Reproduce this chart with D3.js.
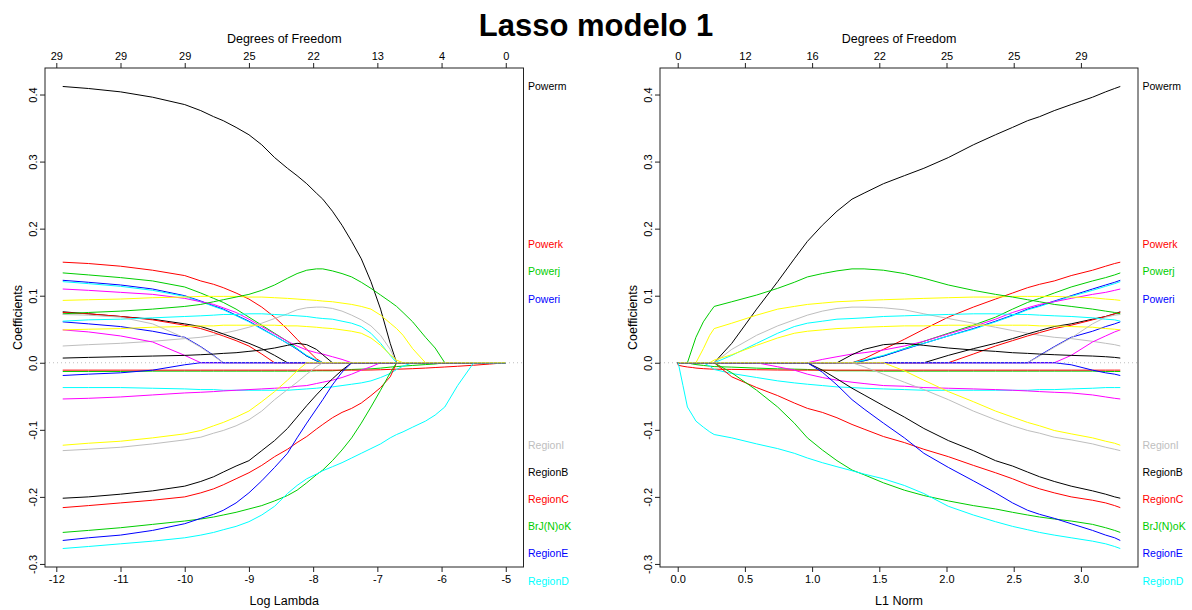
<!DOCTYPE html>
<html>
<head>
<meta charset="utf-8">
<script src="https://cdn.jsdelivr.net/npm/d3@7"></script>
<style>
  html, body { margin: 0; padding: 0; background: #fff; }
  svg { display: block; font-family: "Liberation Sans", Arial, sans-serif; }
</style>
</head>
<body>
<svg id="chart" width="1192" height="610"></svg>
<script>
// ---- lasso path: coefficient estimates along the log(lambda) grid ----
const logLambda = [-11.9, -11.5, -11.0, -10.5, -10.0, -9.75, -9.55, -9.4, -9.2, -9.0,
  -8.8, -8.6, -8.4, -8.25, -8.1, -7.95, -7.85, -7.7, -7.55, -7.4,
  -7.25, -7.1, -6.95, -6.8, -6.7, -6.6, -6.45, -6.25, -6.1, -5.95,
  -5.75, -5.5, -5.25, -5.0];

// one row per predictor, values follow logLambda
const coefs = [
  /* Powerm */ [0.412, 0.409, 0.404, 0.396, 0.385, 0.376, 0.367, 0.361, 0.351, 0.340, 0.325, 0.306, 0.290, 0.279, 0.267, 0.253, 0.244, 0.226, 0.205, 0.181, 0.155, 0.121, 0.080, 0.029, 0, 0, 0, 0, 0, 0, 0, 0, 0, 0],
  /* Powerk */ [0.150, 0.148, 0.144, 0.138, 0.130, 0.122, 0.117, 0.112, 0.104, 0.095, 0.083, 0.068, 0.050, 0.035, 0.020, 0.006, 0, 0, 0, 0, 0, 0, 0, 0, 0, 0, 0, 0, 0, 0, 0, 0, 0, 0],
  /* Powerj */ [0.134, 0.131, 0.127, 0.122, 0.113, 0.104, 0.096, 0.090, 0.080, 0.068, 0.056, 0.044, 0.032, 0.021, 0.010, 0.003, 0, 0, 0, 0, 0, 0, 0, 0, 0, 0, 0, 0, 0, 0, 0, 0, 0, 0],
  /* Poweri */ [0.123, 0.120, 0.116, 0.110, 0.100, 0.092, 0.085, 0.080, 0.071, 0.062, 0.051, 0.040, 0.029, 0.020, 0.010, 0.003, 0, 0, 0, 0, 0, 0, 0, 0, 0, 0, 0, 0, 0, 0, 0, 0, 0, 0],
  /* v05 */ [0.121, 0.118, 0.114, 0.108, 0.099, 0.091, 0.084, 0.079, 0.070, 0.061, 0.050, 0.040, 0.029, 0.021, 0.011, 0.004, 0, 0, 0, 0, 0, 0, 0, 0, 0, 0, 0, 0, 0, 0, 0, 0, 0, 0],
  /* v06 */ [0.110, 0.108, 0.105, 0.102, 0.096, 0.091, 0.087, 0.082, 0.075, 0.065, 0.054, 0.043, 0.032, 0.025, 0.019, 0.015, 0.013, 0.009, 0.005, 0, 0, 0, 0, 0, 0, 0, 0, 0, 0, 0, 0, 0, 0, 0],
  /* v07 */ [0.093, 0.094, 0.095, 0.097, 0.098, 0.099, 0.099, 0.099, 0.099, 0.098, 0.098, 0.097, 0.096, 0.095, 0.094, 0.093, 0.092, 0.091, 0.089, 0.087, 0.084, 0.080, 0.071, 0.059, 0.051, 0.041, 0.021, 0, 0, 0, 0, 0, 0, 0],
  /* v08 */ [0.025, 0.027, 0.029, 0.032, 0.036, 0.038, 0.041, 0.044, 0.048, 0.053, 0.059, 0.066, 0.073, 0.079, 0.082, 0.083, 0.083, 0.081, 0.077, 0.071, 0.064, 0.055, 0.041, 0.020, 0, 0, 0, 0, 0, 0, 0, 0, 0, 0],
  /* v09 */ [0.076, 0.073, 0.069, 0.065, 0.058, 0.054, 0.048, 0.043, 0.036, 0.029, 0.021, 0.011, 0, 0, 0, 0, 0, 0, 0, 0, 0, 0, 0, 0, 0, 0, 0, 0, 0, 0, 0, 0, 0, 0],
  /* v10 */ [0.075, 0.073, 0.069, 0.064, 0.056, 0.051, 0.045, 0.040, 0.033, 0.025, 0.013, 0, 0, 0, 0, 0, 0, 0, 0, 0, 0, 0, 0, 0, 0, 0, 0, 0, 0, 0, 0, 0, 0, 0],
  /* v11 */ [0.073, 0.075, 0.077, 0.080, 0.084, 0.087, 0.091, 0.094, 0.098, 0.102, 0.108, 0.116, 0.126, 0.133, 0.138, 0.140, 0.140, 0.137, 0.133, 0.128, 0.120, 0.111, 0.101, 0.091, 0.084, 0.075, 0.061, 0.038, 0.022, 0, 0, 0, 0, 0],
  /* v12 */ [0.061, 0.058, 0.054, 0.047, 0.038, 0.024, 0.011, 0, 0, 0, 0, 0, 0, 0, 0, 0, 0, 0, 0, 0, 0, 0, 0, 0, 0, 0, 0, 0, 0, 0, 0, 0, 0, 0],
  /* v13 */ [0.062, 0.064, 0.065, 0.067, 0.069, 0.070, 0.071, 0.072, 0.072, 0.073, 0.073, 0.072, 0.071, 0.070, 0.069, 0.067, 0.066, 0.065, 0.062, 0.059, 0.054, 0.044, 0.029, 0.011, 0, 0, 0, 0, 0, 0, 0, 0, 0, 0],
  /* v14 */ [0.049, 0.046, 0.040, 0.031, 0.011, 0, 0, 0, 0, 0, 0, 0, 0, 0, 0, 0, 0, 0, 0, 0, 0, 0, 0, 0, 0, 0, 0, 0, 0, 0, 0, 0, 0, 0],
  /* v15 */ [0.049, 0.050, 0.051, 0.053, 0.054, 0.055, 0.055, 0.056, 0.056, 0.056, 0.056, 0.056, 0.055, 0.055, 0.054, 0.053, 0.052, 0.051, 0.049, 0.047, 0.044, 0.037, 0.026, 0.012, 0.004, 0, 0, 0, 0, 0, 0, 0, 0, 0],
  /* v16 */ [0.072, 0.071, 0.068, 0.058, 0.037, 0.023, 0.010, 0, 0, 0, 0, 0, 0, 0, 0, 0, 0, 0, 0, 0, 0, 0, 0, 0, 0, 0, 0, 0, 0, 0, 0, 0, 0, 0],
  /* v17 */ [0.007, 0.008, 0.009, 0.010, 0.011, 0.012, 0.013, 0.014, 0.015, 0.017, 0.019, 0.022, 0.026, 0.029, 0.027, 0.020, 0.012, 0, 0, 0, 0, 0, 0, 0, 0, 0, 0, 0, 0, 0, 0, 0, 0, 0],
  /* v18 */ [-0.013, -0.013, -0.013, -0.0125, -0.0125, -0.0125, -0.0125, -0.0125, -0.0125, -0.0125, -0.0125, -0.0125, -0.0125, -0.0125, -0.0125, -0.012, -0.012, -0.012, -0.011, -0.010, -0.0095, -0.009, -0.008, -0.0065, -0.0057, -0.005, -0.004, -0.0027, -0.0018, 0, 0, 0, 0, 0],
  /* v19 */ [-0.011, -0.011, -0.011, -0.011, -0.011, -0.011, -0.011, -0.011, -0.011, -0.011, -0.011, -0.011, -0.011, -0.011, -0.011, -0.011, -0.011, -0.011, -0.011, -0.011, -0.011, -0.0108, -0.0104, -0.0099, -0.0096, -0.0093, -0.0088, -0.0079, -0.0071, -0.0063, -0.0052, -0.0037, -0.0019, 0],
  /* v20 */ [-0.037, -0.037, -0.037, -0.038, -0.039, -0.040, -0.040, -0.041, -0.041, -0.041, -0.041, -0.041, -0.041, -0.040, -0.039, -0.038, -0.037, -0.036, -0.034, -0.032, -0.030, -0.027, -0.022, -0.016, -0.010, -0.005, 0, 0, 0, 0, 0, 0, 0, 0],
  /* v21 */ [-0.054, -0.053, -0.051, -0.048, -0.045, -0.044, -0.043, -0.042, -0.041, -0.040, -0.039, -0.038, -0.037, -0.035, -0.034, -0.031, -0.029, -0.026, -0.022, -0.017, -0.011, -0.006, 0, 0, 0, 0, 0, 0, 0, 0, 0, 0, 0, 0],
  /* RegionI */ [-0.131, -0.129, -0.126, -0.121, -0.115, -0.111, -0.105, -0.101, -0.094, -0.085, -0.072, -0.055, -0.040, -0.029, -0.017, -0.006, 0, 0, 0, 0, 0, 0, 0, 0, 0, 0, 0, 0, 0, 0, 0, 0, 0, 0],
  /* RegionB */ [-0.202, -0.200, -0.196, -0.191, -0.184, -0.177, -0.170, -0.163, -0.154, -0.146, -0.131, -0.116, -0.098, -0.081, -0.064, -0.048, -0.038, -0.024, -0.011, 0, 0, 0, 0, 0, 0, 0, 0, 0, 0, 0, 0, 0, 0, 0],
  /* RegionC */ [-0.216, -0.213, -0.209, -0.205, -0.200, -0.194, -0.188, -0.182, -0.173, -0.164, -0.153, -0.140, -0.129, -0.119, -0.110, -0.099, -0.092, -0.082, -0.074, -0.068, -0.060, -0.049, -0.037, -0.021, 0, 0, 0, 0, 0, 0, 0, 0, 0, 0],
  /* BrJ(N)oK */ [-0.253, -0.250, -0.246, -0.241, -0.236, -0.233, -0.230, -0.227, -0.223, -0.218, -0.213, -0.206, -0.198, -0.190, -0.179, -0.167, -0.160, -0.146, -0.130, -0.112, -0.090, -0.066, -0.041, -0.015, 0, 0, 0, 0, 0, 0, 0, 0, 0, 0],
  /* RegionE */ [-0.265, -0.261, -0.257, -0.250, -0.240, -0.232, -0.226, -0.220, -0.209, -0.194, -0.176, -0.156, -0.135, -0.112, -0.090, -0.069, -0.055, -0.033, -0.014, 0, 0, 0, 0, 0, 0, 0, 0, 0, 0, 0, 0, 0, 0, 0],
  /* RegionD */ [-0.277, -0.274, -0.270, -0.266, -0.261, -0.257, -0.253, -0.249, -0.244, -0.237, -0.227, -0.214, -0.195, -0.183, -0.173, -0.166, -0.161, -0.155, -0.149, -0.142, -0.135, -0.128, -0.121, -0.112, -0.107, -0.103, -0.096, -0.087, -0.078, -0.066, -0.034, 0, 0, 0],
  /* v28 */ [-0.019, -0.017, -0.015, -0.011, -0.003, 0, 0, 0, 0, 0, 0, 0, 0, 0, 0, 0, 0, 0, 0, 0, 0, 0, 0, 0, 0, 0, 0, 0, 0, 0, 0, 0, 0, 0],
  /* v29 */ [-0.123, -0.120, -0.117, -0.112, -0.106, -0.101, -0.094, -0.089, -0.081, -0.072, -0.058, -0.043, -0.026, -0.012, 0, 0, 0, 0, 0, 0, 0, 0, 0, 0, 0, 0, 0, 0, 0, 0, 0, 0, 0, 0]
];

// right-hand labels (empty = unlabelled predictor)
const seriesLabels = ["Powerm", "Powerk", "Powerj", "Poweri", "", "", "", "", "", "", "", "", "", "", "", "", "", "", "", "", "",
  "RegionI", "RegionB", "RegionC", "BrJ(N)oK", "RegionE", "RegionD", "", ""];

// palette slot per predictor (0 black, 1 red, 2 green, 3 blue, 4 cyan, 5 magenta, 6 yellow, 7 gray)
const seriesColorSlot = [0, 1, 2, 3, 4, 5, 6, 7, 0, 1, 2, 3, 4, 5, 6, 7, 0, 2, 1, 4, 5, 7, 0, 1, 2, 3, 4, 3, 6];

// axis ticks and the degrees-of-freedom read-outs on the top axes
const lambdaTicks = [-12, -11, -10, -9, -8, -7, -6, -5];
const dfAtLambdaTicks = [29, 29, 29, 25, 22, 13, 4, 0];
const normTicks = [0, 0.5, 1.0, 1.5, 2.0, 2.5, 3.0];
const dfAtNormTicks = [0, 12, 16, 22, 25, 25, 29];
const coefTicks = [-0.3, -0.2, -0.1, 0.0, 0.1, 0.2, 0.3, 0.4];

// ---- styling ----
const palette = ["#000000", "#FF0000", "#00CD00", "#0000FF", "#00FFFF", "#FF00FF", "#FFFF00", "#BEBEBE"];
const boxTop = 68, boxBottom = 567;
const panelBoxes = [{ x0: 45, x1: 523.5 }, { x0: 660, x1: 1138 }];

const svg = d3.select("#chart");

// L1 norm of the coefficient vector at every lambda
const l1Norm = logLambda.map((_, j) => d3.sum(coefs, row => Math.abs(row[j])));

// R-style axis range: data extent widened by 4% on each side
function padded([lo, hi]) {
  const p = (hi - lo) * 0.04;
  return [lo - p, hi + p];
}

const yDomain = padded(d3.extent(coefs.flat()));
const y = d3.scaleLinear().domain(yDomain).range([boxBottom, boxTop]);

// spread right-hand labels so that they do not overlap
function spreadLabels(items, gap) {
  const sorted = items.slice().sort((a, b) => a.y - b.y);
  let groups = sorted.map(d => ({ members: [d], center: d.y }));
  let merged = true;
  while (merged) {
    merged = false;
    for (let k = 0; k < groups.length - 1; k++) {
      const a = groups[k], b = groups[k + 1];
      const aEnd = a.center + (a.members.length - 1) * gap / 2;
      const bStart = b.center - (b.members.length - 1) * gap / 2;
      if (bStart - aEnd < gap) {
        const members = a.members.concat(b.members);
        groups.splice(k, 2, { members, center: d3.mean(members, m => m.y) });
        merged = true;
        break;
      }
    }
  }
  groups.forEach(g => g.members.forEach((m, i) => {
    m.ly = g.center + (i - (g.members.length - 1) / 2) * gap;
  }));
  return sorted;
}

function drawPanel(box, xValues, ticks, tickFmt, dfLabels, xTitle) {
  const g = svg.append("g");
  const x = d3.scaleLinear().domain(padded(d3.extent(xValues))).range([box.x0, box.x1]);
  const cx = (box.x0 + box.x1) / 2;

  // coefficient paths
  const line = d3.line().x((d, j) => x(xValues[j])).y(d => y(d));
  g.append("g").selectAll("path").data(coefs).join("path")
    .attr("d", d => line(d))
    .attr("fill", "none")
    .attr("stroke", (d, i) => palette[seriesColorSlot[i]])
    .attr("stroke-width", 1);

  // dotted zero reference
  g.append("line")
    .attr("x1", box.x0).attr("x2", box.x1)
    .attr("y1", y(0)).attr("y2", y(0))
    .attr("stroke", "#BEBEBE").attr("stroke-width", 1)
    .attr("stroke-dasharray", "1,3");

  // plot frame
  g.append("rect")
    .attr("x", box.x0).attr("y", boxTop)
    .attr("width", box.x1 - box.x0).attr("height", boxBottom - boxTop)
    .attr("fill", "none").attr("stroke", "#222").attr("stroke-width", 1);

  // bottom axis
  const bottom = g.append("g").attr("transform", `translate(0,${boxBottom})`)
    .call(d3.axisBottom(x).tickValues(ticks).tickFormat(tickFmt).tickSize(5).tickPadding(3));
  bottom.select(".domain").remove();
  bottom.selectAll("text").attr("font-size", 11).attr("fill", "#000").attr("font-family", null);
  bottom.selectAll("line").attr("stroke", "#222");

  // top axis: degrees of freedom
  const top = g.append("g").attr("transform", `translate(0,${boxTop})`)
    .call(d3.axisTop(x).tickValues(ticks).tickFormat((d, i) => dfLabels[i]).tickSize(5).tickPadding(3));
  top.select(".domain").remove();
  top.selectAll("text").attr("font-size", 11).attr("fill", "#000").attr("font-family", null);
  top.selectAll("line").attr("stroke", "#222");

  // left axis with labels parallel to the axis
  const left = g.append("g").attr("transform", `translate(${box.x0},0)`)
    .call(d3.axisLeft(y).tickValues(coefTicks).tickFormat(d => d.toFixed(1)).tickSize(5));
  left.select(".domain").remove();
  left.selectAll("line").attr("stroke", "#222");
  left.selectAll("text")
    .attr("font-size", 11).attr("fill", "#000").attr("font-family", null)
    .attr("transform", "rotate(-90)")
    .attr("x", 0).attr("y", -8).attr("dy", 0)
    .attr("text-anchor", "middle");

  // axis titles
  g.append("text").attr("x", cx).attr("y", 42.5).attr("text-anchor", "middle")
    .attr("font-size", 12.5).text("Degrees of Freedom");
  g.append("text").attr("x", cx).attr("y", 604.5).attr("text-anchor", "middle")
    .attr("font-size", 12.5).text(xTitle);
  g.append("text")
    .attr("transform", `translate(${box.x0 - 23.5},${(boxTop + boxBottom) / 2}) rotate(-90)`)
    .attr("text-anchor", "middle").attr("font-size", 12.5).text("Coefficients");

  // right-hand variable labels at the end values
  const last = 0; // smallest lambda = largest L1 norm
  const items = coefs.map((row, i) => ({ i, y: y(row[last]) }))
    .filter(d => seriesLabels[d.i] !== "");
  spreadLabels(items, 27.2);
  g.append("g").selectAll("text").data(items).join("text")
    .attr("x", box.x1 + 4.5)
    .attr("y", d => d.ly)
    .attr("dy", "0.35em")
    .attr("font-size", 10.5)
    .attr("fill", d => palette[seriesColorSlot[d.i]])
    .text(d => seriesLabels[d.i]);
}

drawPanel(panelBoxes[0], logLambda, lambdaTicks, d => String(d), dfAtLambdaTicks, "Log Lambda");
drawPanel(panelBoxes[1], l1Norm, normTicks, d => d.toFixed(1), dfAtNormTicks, "L1 Norm");

// overall title
svg.append("text")
  .attr("x", 596).attr("y", 36)
  .attr("text-anchor", "middle")
  .attr("font-size", 31).attr("font-weight", "bold")
  .text("Lasso modelo 1");
</script>
</body>
</html>
